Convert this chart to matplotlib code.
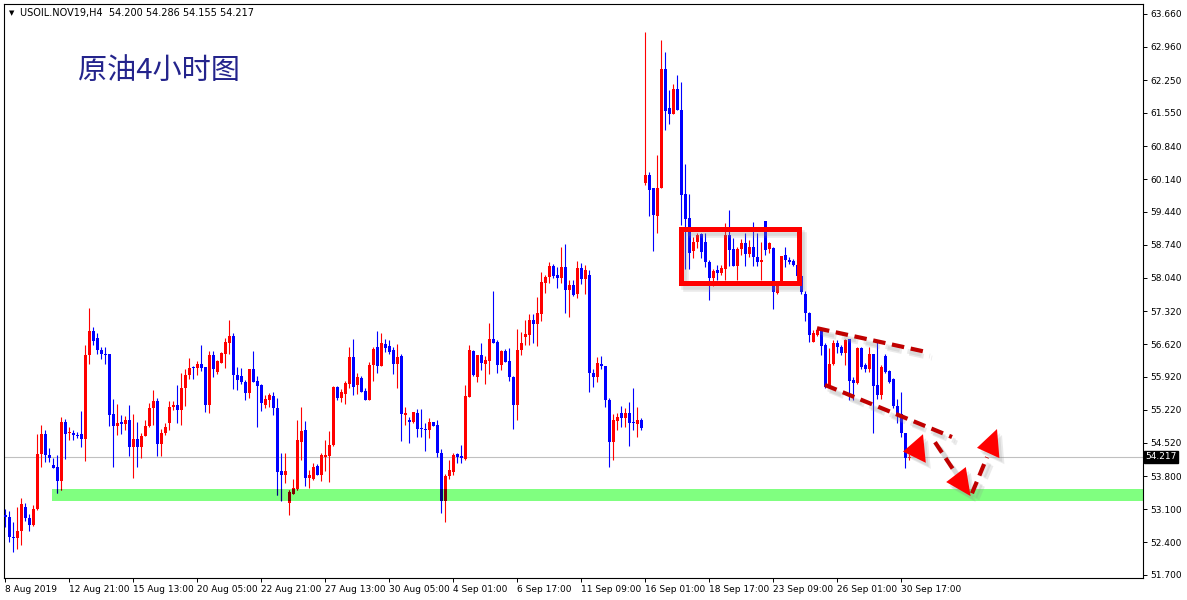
import numpy as np
import matplotlib
matplotlib.use('Agg')
import matplotlib.pyplot as plt
import matplotlib.transforms as mtransforms
from matplotlib.patches import Rectangle, Polygon

# H4 bars of USOIL.NOV19 (one value per bar)
opens = [52.97, 52.94, 52.51, 52.48, 52.63, 53.14, 52.92, 52.77, 53.10, 54.28,
         54.70, 54.26, 54.05, 54.00, 53.70, 54.96, 54.72, 54.72, 54.68, 54.70,
         54.60, 56.39, 56.90, 56.75, 56.50, 56.40, 56.40, 55.13, 54.87, 54.96,
         54.92, 55.00, 54.43, 54.60, 54.43, 54.66, 54.87, 55.26, 55.41, 54.50,
         54.72, 54.94, 55.28, 55.32, 55.22, 55.68, 55.96, 56.13, 56.12, 56.19,
         56.14, 55.32, 56.39, 56.03, 56.22, 56.42, 56.65, 56.80, 55.96, 55.94,
         55.81, 55.57, 56.09, 55.83, 55.75, 55.32, 55.43, 55.51, 55.26, 53.91,
         53.83, 53.24, 53.42, 53.53, 54.54, 54.79, 53.77, 53.74, 54.03, 53.83,
         54.22, 54.24, 54.47, 55.71, 55.48, 55.56, 55.77, 56.35, 55.74, 55.89,
         55.63, 55.43, 56.18, 56.55, 56.16, 56.62, 56.58, 56.49, 56.19, 56.37,
         55.11, 55.00, 54.95, 55.16, 54.84, 54.82, 54.79, 54.96, 54.90, 54.29,
         53.28, 53.81, 53.90, 54.27, 54.24, 54.18, 55.50, 56.48, 55.93, 56.39,
         56.20, 56.27, 56.73, 56.66, 56.18, 56.48, 56.26, 55.93, 55.32, 56.50,
         56.78, 56.82, 57.14, 57.05, 57.27, 57.93, 58.05, 58.29, 58.10, 58.04,
         58.27, 57.78, 57.88, 57.70, 58.25, 58.00, 58.10, 56.01, 55.93, 56.20,
         56.16, 55.43, 54.54, 54.99, 55.15, 55.04, 55.15, 54.97, 54.92, 55.00,
         60.05, 60.22, 59.94, 59.35, 59.94, 62.48, 61.65, 61.52, 62.07, 61.62,
         59.82, 59.30, 58.61, 58.80, 58.96, 58.80, 58.37, 58.04, 58.20, 58.14,
         58.23, 58.94, 58.64, 58.28, 58.64, 58.77, 58.54, 58.69, 58.47, 58.37,
         59.24, 58.64, 58.66, 57.71, 57.91, 58.52, 58.42, 58.39, 58.30, 58.07,
         57.70, 57.28, 56.67, 56.81, 56.93, 56.60, 55.73, 56.20, 56.65, 56.56,
         56.44, 56.72, 55.85, 55.80, 56.53, 56.17, 56.08, 56.41, 55.75, 55.53,
         56.37, 56.05, 55.87, 55.30, 55.13, 54.72, 54.200]
highs = [53.10, 53.07, 52.82, 53.15, 53.33, 53.23, 52.99, 53.20, 54.70, 54.90,
         54.80, 54.40, 54.20, 54.26, 55.07, 55.03, 54.86, 54.80, 54.75, 55.20,
         56.60, 57.40, 56.98, 56.85, 56.55, 56.55, 56.42, 55.45, 55.34, 55.10,
         55.08, 55.32, 55.13, 54.96, 54.72, 55.00, 55.36, 55.64, 55.47, 54.81,
         54.94, 55.40, 55.41, 55.75, 56.00, 56.09, 56.32, 56.15, 56.26, 56.60,
         56.14, 56.48, 56.48, 56.28, 56.46, 56.76, 57.13, 56.86, 56.14, 56.12,
         55.85, 56.10, 56.47, 55.95, 55.78, 55.53, 55.57, 55.60, 55.47, 54.29,
         54.29, 53.51, 53.74, 55.00, 55.27, 54.98, 53.94, 54.09, 54.07, 54.29,
         54.58, 54.77, 55.73, 55.73, 55.66, 55.83, 56.55, 56.73, 56.00, 55.94,
         55.69, 56.25, 56.57, 56.90, 56.85, 56.74, 56.71, 56.56, 56.62, 56.42,
         55.27, 55.07, 55.18, 55.23, 55.23, 54.94, 55.04, 54.96, 55.01, 54.38,
         53.86, 54.15, 54.29, 54.30, 54.47, 55.75, 56.60, 56.49, 56.39, 56.64,
         56.37, 57.07, 57.76, 56.71, 56.50, 56.52, 56.53, 55.95, 56.94, 56.87,
         57.14, 57.26, 57.26, 57.62, 58.15, 58.10, 58.38, 58.33, 58.27, 58.70,
         58.76, 57.98, 57.99, 58.40, 58.35, 58.30, 58.20, 56.10, 56.35, 56.37,
         56.16, 55.47, 55.13, 55.15, 55.30, 55.25, 55.39, 55.68, 55.27, 55.04,
         63.28, 60.29, 59.94, 60.65, 63.10, 62.84, 62.04, 62.16, 62.36, 62.21,
         60.47, 59.83, 58.91, 58.99, 58.98, 58.98, 58.41, 58.23, 58.30, 58.30,
         59.21, 59.48, 58.89, 58.69, 58.87, 58.98, 58.84, 59.23, 58.98, 58.80,
         59.24, 58.80, 58.69, 57.95, 58.50, 58.69, 58.47, 58.44, 58.35, 58.10,
         57.75, 57.30, 56.93, 56.96, 56.96, 56.64, 56.53, 56.71, 56.71, 56.60,
         56.74, 56.74, 55.92, 56.56, 56.55, 56.21, 56.56, 56.42, 56.71, 56.17,
         56.40, 56.07, 55.89, 55.45, 55.60, 54.72, 54.286]
lows = [52.72, 52.41, 52.19, 52.25, 52.34, 52.85, 52.64, 52.75, 53.08, 54.00,
        54.10, 54.10, 53.99, 53.45, 53.50, 54.17, 54.58, 54.58, 54.62, 54.43,
        54.13, 56.20, 56.60, 56.40, 56.30, 56.20, 54.87, 54.00, 54.68, 54.70,
        54.80, 54.23, 53.77, 54.00, 54.20, 54.66, 54.85, 54.90, 54.24, 54.24,
        54.68, 54.80, 55.22, 54.94, 54.90, 55.30, 55.88, 55.88, 55.96, 56.05,
        55.18, 55.16, 55.91, 55.98, 56.21, 56.11, 56.41, 55.66, 55.65, 55.78,
        55.44, 55.48, 55.82, 54.86, 55.20, 55.25, 55.27, 55.11, 53.40, 53.27,
        53.65, 52.97, 53.42, 53.51, 54.15, 53.60, 53.56, 53.72, 53.82, 53.71,
        53.92, 53.69, 54.45, 55.42, 55.39, 55.34, 55.68, 55.54, 55.56, 55.59,
        55.42, 55.43, 55.84, 56.01, 56.16, 56.46, 56.42, 55.98, 55.69, 54.55,
        54.89, 54.52, 54.93, 54.65, 54.65, 54.34, 54.61, 54.87, 54.22, 53.02,
        52.83, 53.74, 53.84, 54.09, 54.08, 54.15, 55.50, 55.94, 55.82, 56.06,
        55.76, 55.99, 56.65, 56.01, 56.06, 56.25, 55.84, 54.82, 55.00, 56.38,
        56.60, 56.60, 56.65, 56.58, 57.12, 57.72, 57.93, 58.04, 57.81, 57.92,
        57.29, 57.19, 57.65, 57.60, 57.90, 57.70, 55.61, 55.71, 55.82, 56.10,
        55.29, 54.01, 54.16, 54.78, 54.85, 54.85, 54.44, 54.78, 54.65, 54.78,
        60.01, 59.35, 58.61, 58.99, 59.94, 61.18, 61.31, 61.52, 61.62, 59.16,
        58.23, 58.23, 58.45, 58.66, 58.45, 58.27, 57.57, 57.86, 57.99, 58.09,
        57.98, 58.28, 58.28, 57.98, 58.52, 58.28, 58.47, 58.28, 58.28, 57.98,
        58.52, 58.57, 57.38, 57.68, 57.88, 58.27, 58.32, 58.28, 58.00, 57.70,
        57.12, 56.67, 56.67, 56.79, 56.39, 55.68, 55.71, 56.17, 56.44, 56.39,
        56.17, 55.43, 55.43, 55.78, 56.10, 56.03, 56.03, 54.73, 55.46, 55.46,
        56.00, 55.80, 55.25, 54.93, 54.65, 53.98, 54.155]
closes = [52.93, 52.50, 52.48, 52.63, 53.22, 52.91, 52.77, 53.10, 54.28, 54.70,
          54.26, 54.20, 53.99, 53.70, 54.96, 54.70, 54.74, 54.68, 54.66, 54.60,
          56.39, 56.90, 56.69, 56.50, 56.40, 56.38, 55.10, 54.87, 54.94, 54.92,
          55.00, 54.43, 54.60, 54.43, 54.66, 54.87, 55.26, 55.41, 54.50, 54.72,
          54.85, 55.28, 55.32, 55.22, 55.68, 55.96, 56.11, 56.11, 56.19, 56.12,
          55.32, 56.39, 56.09, 56.26, 56.44, 56.67, 56.80, 55.96, 55.85, 55.81,
          55.58, 56.09, 55.82, 55.73, 55.37, 55.45, 55.53, 55.25, 53.90, 53.84,
          53.91, 53.46, 53.55, 54.58, 54.77, 53.77, 53.82, 54.01, 53.84, 54.26,
          54.26, 54.48, 55.71, 55.48, 55.61, 55.80, 56.35, 55.71, 55.93, 55.61,
          55.43, 56.18, 56.52, 56.16, 56.64, 56.54, 56.46, 56.19, 56.34, 55.13,
          55.16, 54.95, 55.18, 54.81, 54.81, 54.79, 54.96, 54.87, 54.29, 53.28,
          53.81, 53.93, 54.25, 54.22, 54.20, 55.51, 56.49, 55.96, 56.39, 56.21,
          56.28, 56.73, 56.65, 56.18, 56.48, 56.25, 55.91, 55.32, 56.50, 56.64,
          56.84, 57.14, 57.05, 57.28, 57.94, 58.06, 58.29, 58.08, 58.03, 58.27,
          57.78, 57.88, 57.67, 58.25, 58.00, 58.20, 56.00, 55.93, 56.21, 56.16,
          55.42, 54.54, 55.00, 55.06, 55.04, 55.15, 54.93, 54.93, 55.00, 54.83,
          60.22, 59.90, 59.37, 59.94, 62.48, 61.60, 61.52, 62.07, 61.62, 59.81,
          59.29, 58.57, 58.80, 58.94, 58.59, 58.37, 58.04, 58.18, 58.14, 58.25,
          58.94, 58.62, 58.28, 58.64, 58.77, 58.54, 58.69, 58.47, 58.37, 58.41,
          58.62, 58.78, 57.73, 57.88, 58.49, 58.42, 58.37, 58.30, 58.07, 57.73,
          57.28, 56.81, 56.85, 56.93, 56.58, 55.71, 56.20, 56.65, 56.55, 56.44,
          56.71, 55.84, 55.80, 56.53, 56.14, 56.08, 56.41, 55.73, 55.53, 56.14,
          56.03, 55.82, 55.30, 55.13, 54.72, 54.20, 54.217]

date_labels = ['8 Aug 2019', '12 Aug 21:00', '15 Aug 13:00', '20 Aug 05:00',
               '22 Aug 21:00', '27 Aug 13:00', '30 Aug 05:00', '4 Sep 01:00',
               '6 Sep 17:00', '11 Sep 09:00', '16 Sep 01:00', '18 Sep 17:00',
               '23 Sep 09:00', '26 Sep 01:00', '30 Sep 17:00']
date_step = 16
price_ticks = [63.660, 62.960, 62.250, 61.550, 60.840, 60.140, 59.440, 58.740,
               58.040, 57.320, 56.620, 55.920, 55.220, 54.520, 53.800, 53.100,
               52.400, 51.700]
last_price = 54.217

# drawn objects (bar index, price)
support_zone = (11.75, 53.28, 53.53)
range_box = (168.9, 198.4, 57.915, 59.066)
upper_trend = ([203.0, 230.5], [56.96, 56.45])
lower_trend = ([205.0, 236.75], [55.75, 54.64])
arrow_left = [(224.5, 54.33), (229.5, 54.70), (230.2, 54.09)]
down_shaft = ([232.5, 237.5], [54.53, 53.89])
down_head = [(235.3, 53.68), (240.2, 54.00), (241.4, 53.38)]
up_shaft = ([241.75, 245.5], [53.44, 54.21])
up_head = [(243.0, 54.41), (248.0, 54.81), (248.6, 54.19)]

W, H = 1187, 600
fig = plt.figure(figsize=(W / 100, H / 100), dpi=100)
ax = fig.add_axes([4 / W, 22 / H, 1139 / W, 574 / H])
ax.set_xlim(-0.25, 284.5)
ax.set_ylim(51.634, 63.873)

o = np.array(opens); h = np.array(highs); l = np.array(lows); c = np.array(closes)
x = np.arange(len(o))
up = c > o
col = np.where(up, '#ff0000', '#0000ff')
dark = np.where(up, '#800000', '#000080')
lo = np.minimum(o, c)
bh = np.maximum(np.abs(c - o), 0.02)

# support band
ax.add_patch(Rectangle((support_zone[0], support_zone[1]), 400,
                       support_zone[2] - support_zone[1], color='#80ff80', lw=0, zorder=1))
ax.axhline(last_price, color='#c0c0c0', lw=0.8, zorder=1.5)

ax.vlines(x, l, h, colors=col, lw=0.8, zorder=3)
ax.bar(x, bh, 0.75, bottom=lo, color=col, lw=0, zorder=3)

# candles inside the band look darker in the original
clip = Rectangle((support_zone[0], support_zone[1]), 400,
                 support_zone[2] - support_zone[1], transform=ax.transData)
vd = ax.vlines(x, l, h, colors=dark, lw=0.8, zorder=3.5)
vd.set_clip_path(clip)
for b in ax.bar(x, bh, 0.75, bottom=lo, color=dark, lw=0, zorder=3.5):
    b.set_clip_path(clip)

# soft drop shadows: a couple of offset grey copies
shadows = [mtransforms.offset_copy(ax.transData, fig=fig, x=dx, y=-dy, units='dots')
           for dx, dy in [(3, 4), (5, 6)]]

# red range box
x0, x1, y0, y1 = range_box
for tr in shadows:
    ax.add_patch(Rectangle((x0, y0), x1 - x0, y1 - y0, fill=False, ec='#909090',
                           lw=4, alpha=0.18, transform=tr, zorder=5))
ax.add_patch(Rectangle((x0, y0), x1 - x0, y1 - y0, fill=False, ec='#ff0000',
                       lw=3.6, zorder=5.5, joinstyle='miter'))

# dashed trend lines and arrows
for xs, ys in [upper_trend, lower_trend, down_shaft, up_shaft]:
    for tr in shadows:
        ax.plot(xs, ys, color='#909090', alpha=0.18, lw=3.5, dashes=(3, 1.6),
                transform=tr, zorder=5)
    ax.plot(xs, ys, color='#c00000', lw=3, dashes=(3, 1.6), zorder=6)
for pts in [arrow_left, down_head, up_head]:
    for tr in shadows:
        ax.add_patch(Polygon(pts, closed=True, fc='#909090', ec='none', alpha=0.18,
                             transform=tr, zorder=5))
    ax.add_patch(Polygon(pts, closed=True, fc='#ff0000', ec='none', zorder=6))

# axes styling
for s in ax.spines.values():
    s.set_color('black')
    s.set_linewidth(0.8)
ax.yaxis.tick_right()
ax.set_yticks(price_ticks)
ax.set_yticklabels(['%.3f' % v for v in price_ticks], fontsize=6.5)
ax.tick_params(axis='y', length=3, width=0.7, pad=2)
ax.set_xticks(np.arange(len(date_labels)) * date_step)
ax.set_xticklabels(date_labels, fontsize=6.5, ha='left')
ax.tick_params(axis='x', length=3, width=0.7, pad=2)

ax.text(1.002, last_price, '%.3f' % last_price, transform=ax.get_yaxis_transform(),
        color='white', fontsize=6.5, va='center', ha='left',
        bbox=dict(boxstyle='square,pad=0.15', fc='black', ec='black'), zorder=10,
        clip_on=False)

fig.text(9 / W, 1 - 13 / H, '\u25bc', fontsize=5, va='center')
fig.text(20 / W, 1 - 13 / H, 'USOIL.NOV19,H4  54.200 54.286 54.155 54.217',
         fontsize=7, va='center')
fig.text(78 / W, 1 - 71 / H, '原油4小时图', fontsize=21, color='#24248c', va='center',
         family=['Noto Sans CJK SC', 'DejaVu Sans'])

fig.savefig('out.png', dpi=100)
